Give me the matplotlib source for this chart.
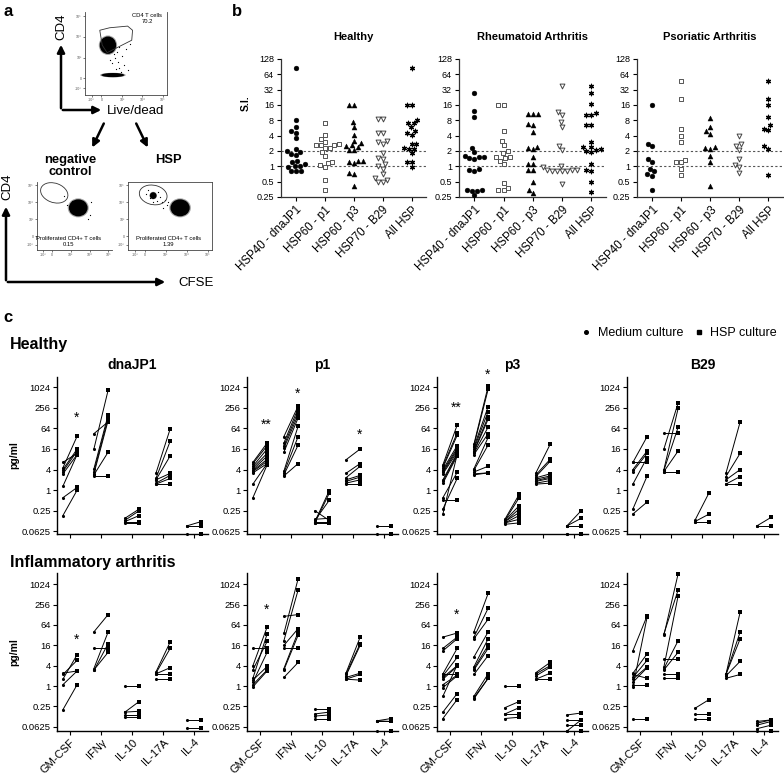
import numpy as np
import matplotlib
matplotlib.use('Agg')
import matplotlib.pyplot as plt
from matplotlib.patches import Ellipse, Polygon, FancyArrowPatch
from matplotlib.lines import Line2D
from matplotlib.ticker import NullLocator

plt.rcParams['font.family'] = ['Liberation Sans', 'DejaVu Sans']

# ---------------- data: panel b (stimulation index) ----------------
b_categories = ['HSP40 - dnaJP1', 'HSP60 - p1', 'HSP60 - p3', 'HSP70 - B29', 'All HSP']
b_titles = ['Healthy', 'Rheumatoid Arthritis', 'Psoriatic Arthritis']
b_yticks = [0.25, 0.5, 1, 2, 4, 8, 16, 32, 64, 128]
b_ytick_labels = ['0.25', '0.5', '1', '2', '4', '8', '16', '32', '64', '128']

h_dnajp1 = [84, 8, 6, 5, 4.6, 3.6, 2.2, 2.0, 1.9, 1.75, 1.7, 1.3, 1.2, 1.1, 1.0, 1.0, 0.95, 0.8, 0.8, 0.8]
h_p1 = [7, 4.1, 3.4, 3.0, 2.7, 2.6, 2.6, 2.6, 2.3, 2.3, 1.9, 1.6, 1.2, 1.15, 1.05, 0.95, 0.55, 0.35]
h_p3 = [16, 16, 7.5, 6, 4.2, 3.2, 2.9, 2.6, 2.5, 2.4, 2.1, 2.1, 1.3, 1.25, 1.2, 1.15, 0.75, 0.7, 0.42]
h_b29 = [8.5, 8.5, 4.5, 4.5, 3.2, 3.0, 2.8, 1.8, 1.45, 1.4, 1.1, 1.0, 0.9, 0.7, 0.6, 0.55, 0.5, 0.5]
h_all = [84, 16, 16, 8.3, 7, 7, 5.8, 5, 4.6, 4.2, 2.8, 2.7, 2.3, 2.2, 2.2, 1.8, 1.2, 1.2, 0.95]

ra_dnajp1 = [27, 12, 9.5, 2.3, 1.9, 1.6, 1.5, 1.5, 1.45, 1.4, 0.9, 0.85, 0.8, 0.35, 0.34, 0.33, 0.33, 0.27]
ra_p1 = [16, 16, 5, 3.2, 2.6, 2.0, 1.8, 1.5, 1.5, 1.45, 1.3, 1.1, 0.48, 0.38, 0.34, 0.34]
ra_p3 = [10.5, 10.5, 10.5, 6.8, 6.6, 4.8, 2.4, 2.3, 2.2, 1.5, 1.1, 1.1, 0.85, 0.85, 0.5, 0.34, 0.3]
ra_b29 = [38, 11.5, 10, 7.5, 6, 2.5, 2.1, 1.0, 0.95, 0.85, 0.85, 0.85, 0.8, 0.8, 0.8, 0.8, 0.45]
ra_all = [37, 28, 17, 11, 10, 10, 6.5, 6.5, 3, 2.4, 2.4, 2.2, 2.1, 2.0, 1.9, 1.1, 0.85, 0.8, 0.5, 0.32]

psa_dnajp1 = [16, 2.8, 2.5, 1.4, 1.2, 0.9, 0.8, 0.7, 0.65, 0.35]
psa_p1 = [48, 21, 5.4, 3.9, 3.0, 1.35, 1.2, 1.2, 0.9, 0.67]
psa_p3 = [9, 6, 5, 4.4, 2.4, 2.3, 2.2, 1.6, 1.2, 0.42]
psa_b29 = [4, 2.8, 2.5, 2.1, 1.4, 1.05, 0.95, 0.75]
psa_all = [48, 21, 16, 9.5, 6.4, 5.4, 5.2, 2.5, 2.2, 0.67]

# ---------------- data: panel c (cytokines, medium vs HSP culture) ----------------
cytokines = ['GM-CSF', 'IFNγ', 'IL-10', 'IL-17A', 'IL-4']
c_peptides = ['dnaJP1', 'p1', 'p3', 'B29']
c_yticks = [0.0625, 0.25, 1, 4, 16, 64, 256, 1024]
c_ytick_labels = ['0.0625', '0.25', '1', '4', '16', '64', '256', '1024']

healthy_dnajp1 = {
    'GM-CSF': ([6.5, 4.5, 4.0, 3.5, 3.0, 1.3, 0.6, 0.18], [12, 38, 16, 14, 11, 11, 1.2, 1.0]),
    'IFNγ': ([45, 16, 4.2, 3.5, 3.0, 2.8, 2.6], [100, 850, 160, 130, 110, 13, 2.6]),
    'IL-10': ([0.15, 0.13, 0.12, 0.12, 0.11], [0.28, 0.25, 0.18, 0.12, 0.11]),
    'IL-17A': ([3.1, 2.2, 2.0, 2.0, 1.6, 1.5, 1.5], [62, 27, 10, 3.1, 2.7, 2.2, 1.5]),
    'IL-4': ([0.09, 0.09, 0.052], [0.12, 0.09, 0.052]),
}
healthy_p1 = {
    'GM-CSF': ([6.5, 6, 5, 4.5, 4, 3.7, 3.5, 3.2, 1.5, 0.6], [24, 20, 16, 12, 10, 8, 7, 6, 6, 5.5]),
    'IFNγ': ([37, 24, 20, 17, 13, 3.6, 3.2, 2.8, 2.6], [290, 250, 200, 160, 130, 75, 37, 21, 6]),
    'IL-10': ([0.25, 0.12, 0.11, 0.13, 0.14, 0.12, 0.11], [0.13, 0.95, 0.8, 0.5, 0.15, 0.12, 0.11]),
    'IL-17A': ([7.7, 3.1, 2.3, 2.0, 1.8, 1.6, 1.5], [16, 6, 5, 2.7, 2.4, 2.0, 1.5]),
    'IL-4': ([0.09, 0.052], [0.09, 0.052]),
}
healthy_p3 = {
    'GM-CSF': ([5.5, 5, 4.5, 4, 3.6, 3.3, 3.0, 2.0, 1.8, 1.6, 0.6, 0.5, 0.28, 0.2],
               [80, 47, 40, 20, 17, 15, 13, 12, 11, 10, 3.3, 0.5, 2.2, 11]),
    'IFNγ': ([22, 20, 18, 16, 14, 13, 12, 11, 4.2, 3.8, 3.4, 3.0, 2.8],
             [1100, 900, 280, 200, 140, 120, 70, 45, 35, 21, 5, 3.2, 3.2]),
    'IL-10': ([0.14, 0.13, 0.13, 0.12, 0.12, 0.11, 0.11, 0.1], [0.75, 0.6, 0.35, 0.28, 0.22, 0.18, 0.14, 0.11]),
    'IL-17A': ([3.2, 2.8, 2.5, 2.3, 2.1, 1.9, 1.8, 1.6, 1.5], [22, 8, 7, 3, 2.6, 2.4, 2.2, 1.9, 1.6]),
    'IL-4': ([0.09, 0.09, 0.09, 0.052, 0.052], [0.25, 0.15, 0.09, 0.052, 0.052]),
}
healthy_b29 = {
    'GM-CSF': ([6.5, 6.5, 4, 3.5, 1.5, 0.28, 0.2], [6.5, 37, 14, 12, 9, 2.6, 0.45]),
    'IFNγ': ([47, 16, 4, 3.8, 3.5, 3.3], [47, 360, 250, 70, 14, 3.3]),
    'IL-10': ([0.13, 0.12, 0.12], [0.85, 0.2, 0.12]),
    'IL-17A': ([3.1, 2.5, 2.0, 1.5, 1.5], [100, 12, 4, 2.5, 1.5]),
    'IL-4': ([0.09, 0.09], [0.16, 0.09]),
}
ia_dnajp1 = {
    'GM-CSF': ([2.4, 2.2, 1.6, 1.1, 0.2], [2.8, 5.8, 8.5, 2.8, 1.1]),
    'IFNγ': ([40, 13, 3.3, 3.0, 2.9], [130, 13, 40, 10, 18]),
    'IL-10': ([1.0, 0.17, 0.17, 0.14, 0.12], [1.0, 0.35, 0.18, 0.14, 0.12]),
    'IL-17A': ([2.6, 2.4, 2.3, 2.2, 1.6], [20, 13, 3.5, 2.2, 1.6]),
    'IL-4': ([0.1, 0.058], [0.1, 0.058]),
}
ia_p1 = {
    'GM-CSF': ([13, 4, 3, 1.7, 1.5, 1.3, 1.1, 0.95], [13, 56, 21, 35, 3.8, 10, 3.0, 2.8]),
    'IFNγ': ([115, 36, 22, 16, 13, 3.3, 3.0, 1.8], [130, 1500, 700, 50, 13, 40, 32, 5]),
    'IL-10': ([0.21, 0.15, 0.13, 0.11], [0.21, 0.17, 0.14, 0.11]),
    'IL-17A': ([2.4, 2.2, 2.0, 1.8, 1.6, 1.6], [28, 18, 16, 2.4, 2.2, 1.5]),
    'IL-4': ([0.094, 0.094, 0.094, 0.047], [0.11, 0.094, 0.09, 0.047]),
}
ia_p3 = {
    'GM-CSF': ([28, 13, 11, 2.3, 2.2, 2.0, 1.8, 1.6, 1.1, 0.9, 0.5, 0.17, 0.11],
               [37, 28, 25, 13, 2.2, 7, 4, 3.8, 2.1, 2.0, 4.2, 0.6, 0.4]),
    'IFNγ': ([40, 28, 25, 7.2, 3.7, 3.3, 3.0, 2.2, 0.5, 0.45, 0.42],
             [550, 200, 95, 40, 25, 16, 13, 8, 2.3, 1.7, 1.7]),
    'IL-10': ([1.0, 0.23, 0.15, 0.15, 0.11], [1.0, 0.35, 0.23, 0.15, 0.12]),
    'IL-17A': ([2.5, 2.3, 2.0, 1.6, 1.6], [5, 4, 3.6, 2.4, 1.6]),
    'IL-4': ([0.14, 0.1, 0.07, 0.047, 0.047], [0.16, 0.1, 0.07, 0.1, 0.047]),
}
ia_b29 = {
    'GM-CSF': ([11, 2.4, 2.2, 1.8, 1.6, 1.3, 1.1, 0.95, 0.11], [120, 9, 1.7, 5.8, 3.7, 3.5, 1.1, 110, 0.11]),
    'IFNγ': ([35, 32, 6.5, 3.7, 3.0, 3.3, 2.2, 1.7], [700, 2100, 6.5, 470, 10, 22, 2.2, 1.7]),
    'IL-10': ([0.22, 0.15, 0.11], [0.4, 0.15, 0.11]),
    'IL-17A': ([2.2, 2.2, 2.2, 2.0, 1.7], [155, 40, 25, 5.4, 2.2]),
    'IL-4': ([0.09, 0.08, 0.07, 0.055, 0.047], [0.1, 0.1, 0.09, 0.07, 0.047]),
}
# significance marks: (panel index, cytokine, label, y value)
healthy_sig = [(0, 'GM-CSF', '*', 130), (1, 'GM-CSF', '**', 82), (1, 'IFNγ', '*', 680),
               (1, 'IL-17A', '*', 41), (2, 'GM-CSF', '**', 260), (2, 'IFNγ', '*', 2300)]
ia_sig = [(0, 'GM-CSF', '*', 24), (1, 'GM-CSF', '*', 180), (2, 'GM-CSF', '*', 130)]

# ---------------- data: panel a (flow cytometry sketches, axes fractions) ----------------
top_blobs = [(0.28, 0.60, 0.20, 0.21), (0.34, 0.24, 0.28, 0.05)]
top_dots_x = [0.36, 0.40, 0.33, 0.42, 0.38, 0.45, 0.30, 0.47, 0.35, 0.50, 0.55, 0.44, 0.39, 0.52, 0.41]
top_dots_y = [0.45, 0.40, 0.38, 0.33, 0.31, 0.47, 0.42, 0.36, 0.50, 0.55, 0.62, 0.28, 0.52, 0.30, 0.58]
top_gate_x = [0.18, 0.30, 0.52, 0.58, 0.57, 0.39, 0.27, 0.21]
top_gate_y = [0.78, 0.81, 0.83, 0.78, 0.66, 0.57, 0.51, 0.60]
neg_blobs = [(0.55, 0.62, 0.25, 0.25)]
neg_dots_x = [0.40, 0.44, 0.72, 0.70, 0.47, 0.36, 0.68]
neg_dots_y = [0.66, 0.58, 0.70, 0.52, 0.72, 0.80, 0.45]
hsp_blobs = [(0.62, 0.62, 0.23, 0.25), (0.30, 0.80, 0.08, 0.10)]
hsp_dots_x = [0.22, 0.26, 0.34, 0.38, 0.40, 0.44, 0.46, 0.24, 0.36, 0.42, 0.48, 0.30]
hsp_dots_y = [0.82, 0.76, 0.72, 0.78, 0.70, 0.74, 0.66, 0.88, 0.86, 0.62, 0.70, 0.70]

# ---------------- figure ----------------
W, H = 784, 776
fig = plt.figure(figsize=(W / 100, H / 100), dpi=100)


def ax_px(x0, y0, x1, y1):
    return fig.add_axes([x0 / W, 1 - y1 / H, (x1 - x0) / W, (y1 - y0) / H])


def fp(x, y):
    return (x / W, 1 - y / H)


def ftext(x, y, s, **kw):
    fig.text(x / W, 1 - y / H, s, **kw)


def farrow(p0, p1, lw=1.8):
    fig.add_artist(FancyArrowPatch(fp(*p0), fp(*p1), transform=fig.transFigure,
                                   arrowstyle='-|>', mutation_scale=11, lw=lw, color='black'))


# ---- panel a ----
ftext(3, 12, 'a', fontsize=12, fontweight='bold', va='center')


def flow_axes(rect, blobs, dx, dy, box=False):
    ax = ax_px(*rect)
    ax.set_xlim(0, 1)
    ax.set_ylim(0, 1)
    for sp in ['top', 'right']:
        ax.spines[sp].set_visible(box)
    for sp in ax.spines.values():
        sp.set_linewidth(0.6)
        sp.set_color('#444444')
    ticks = [0.08, 0.2, 0.45, 0.7, 0.95]
    ax.set_xticks(ticks)
    ax.set_yticks(ticks)
    tl = ['-10³', '0', '10³', '10⁴', '10⁵']
    ax.set_xticklabels(tl, fontsize=2.6, color='#555555')
    ax.set_yticklabels(tl, fontsize=2.6, color='#555555')
    ax.tick_params(length=1.5, width=0.5, pad=1, color='#444444')
    for (cx, cy, w, h) in blobs:
        ax.add_patch(Ellipse((cx, cy), w * 1.12, h * 1.12, color='black', alpha=0.35, lw=0))
        ax.add_patch(Ellipse((cx, cy), w, h, color='black', lw=0))
    ax.scatter(dx, dy, s=0.8, color='black', lw=0)
    return ax


ax_top = flow_axes((85, 12, 167, 95), top_blobs, top_dots_x, top_dots_y)
ax_top.spines['right'].set_visible(True)
ax_top.add_patch(Polygon(np.column_stack([top_gate_x, top_gate_y]), closed=True, fill=False, lw=0.6,
                         ec='#333333'))
ax_top.text(0.76, 0.92, 'CD4 T cells\n70.2', fontsize=4.2, ha='center', va='center', linespacing=1.3)

ax_neg = flow_axes((37, 182, 112, 250), neg_blobs, neg_dots_x, neg_dots_y)
ax_neg.add_patch(Ellipse((0.23, 0.84), 0.38, 0.28, angle=-25, fill=False, lw=0.6, ec='#333333'))
ax_neg.text(0.42, 0.13, 'Proliferated CD4+ T cells\n0.15', fontsize=4.2, ha='center', va='center',
            linespacing=1.3)

ax_hsp = flow_axes((128, 182, 212, 250), hsp_blobs, hsp_dots_x, hsp_dots_y, box=True)
ax_hsp.add_patch(Ellipse((0.30, 0.81), 0.34, 0.28, angle=-25, fill=False, lw=0.6, ec='#333333'))
ax_hsp.text(0.48, 0.13, 'Proliferated CD4+ T cells\n1.39', fontsize=4.2, ha='center', va='center',
            linespacing=1.3)

farrow((61, 111), (61, 42))
farrow((60, 110), (104, 110))
ftext(61, 27, 'CD4', fontsize=9.5, rotation=90, ha='center', va='center')
ftext(107, 111, 'Live/dead', fontsize=9.5, ha='left', va='center')
farrow((105, 121), (91, 150))
farrow((135, 121), (149, 150))
ftext(70, 166, 'negative\ncontrol', fontsize=9.3, fontweight='bold', ha='center', va='center',
      linespacing=1.05)
ftext(168, 160, 'HSP', fontsize=9.3, fontweight='bold', ha='center', va='center')
farrow((6, 283), (6, 204))
farrow((5, 282), (168, 282))
ftext(7, 187, 'CD4', fontsize=9.5, rotation=90, ha='center', va='center')
ftext(178, 283, 'CFSE', fontsize=9.5, ha='left', va='center')

# ---- panel b ----
ftext(232, 12, 'b', fontsize=12, fontweight='bold', va='center')


def swarm(vals, ppy, d):
    ys = np.log2(np.asarray(vals, float)) * ppy
    xs = np.zeros(len(ys))
    done = []
    for i in np.argsort(ys):
        y = ys[i]
        cands = [0.0]
        blocks = []
        for j in done:
            dy = abs(ys[j] - y)
            if dy < d:
                w = np.sqrt(d * d - dy * dy)
                blocks.append((xs[j] - w, xs[j] + w))
                cands += [xs[j] - w, xs[j] + w]
        cands.sort(key=abs)
        for c in cands:
            if all(not (lo + 1e-6 < c < hi - 1e-6) for lo, hi in blocks):
                xs[i] = c
                break
        done.append(i)
    return xs


b_groups = [
    [h_dnajp1, h_p1, h_p3, h_b29, h_all],
    [ra_dnajp1, ra_p1, ra_p3, ra_b29, ra_all],
    [psa_dnajp1, psa_p1, psa_p3, psa_b29, psa_all],
]
b_styles = [
    dict(marker='o', facecolor='black', edgecolor='black', s=12, linewidths=0.3),
    dict(marker='s', facecolor='white', edgecolor='#555555', s=11, linewidths=0.7),
    dict(marker='^', facecolor='black', edgecolor='black', s=13, linewidths=0.3),
    dict(marker='v', facecolor='white', edgecolor='#444444', s=12, linewidths=0.7),
    dict(marker=(6, 2, 0), facecolor='black', edgecolor='black', s=10, linewidths=0.9),
]
b_rects = [(281, 59, 426, 197), (459, 59, 606, 197), (637, 59, 783, 197)]
ppy = (197 - 59) / 9.0
ppx = 29.0
for k, rect in enumerate(b_rects):
    ax = ax_px(*rect)
    ax.set_yscale('log', base=2)
    ax.set_ylim(0.25, 128)
    ax.set_xlim(-0.52, 4.5)
    for sp in ['top', 'right']:
        ax.spines[sp].set_visible(False)
    for sp in ['left', 'bottom']:
        ax.spines[sp].set_linewidth(0.9)
        ax.spines[sp].set_color('#333333')
    ax.axhline(1, color='#555555', lw=0.8, ls=(0, (2, 2)), zorder=1)
    ax.axhline(2, color='#555555', lw=0.8, ls=(0, (2, 2)), zorder=1)
    for gi, vals in enumerate(b_groups[k]):
        offs = swarm(vals, ppy, 5.0) / ppx
        ax.scatter(gi + offs, vals, zorder=3, clip_on=False, **b_styles[gi])
    ax.set_yticks(b_yticks)
    ax.set_yticklabels(b_ytick_labels, fontsize=6.5)
    ax.yaxis.set_minor_locator(NullLocator())
    ax.set_xticks(range(5))
    ax.set_xticklabels(b_categories, rotation=45, ha='right', rotation_mode='anchor', fontsize=8.3)
    ax.tick_params(length=3, width=0.8, pad=2)
    ax.set_title(b_titles[k], fontsize=8, fontweight='bold', pad=14)
ftext(246, 103, 'S.I.', fontsize=7.5, fontweight='bold', rotation=90, ha='center', va='center')

# ---- panel c ----
ftext(3, 318, 'c', fontsize=12, fontweight='bold', va='center')
ftext(10, 344, 'Healthy', fontsize=11.5, fontweight='bold', va='center')
ftext(10, 562, 'Inflammatory arthritis', fontsize=11.5, fontweight='bold', va='center')

col_left = [57, 247, 437, 627]
col_w = 151
rows = [
    dict(top=377, bottom=534, ylim=(0.052, 2048), panels=[healthy_dnajp1, healthy_p1, healthy_p3, healthy_b29],
         sig=healthy_sig, labels=False),
    dict(top=573, bottom=731, ylim=(0.047, 2200), panels=[ia_dnajp1, ia_p1, ia_p3, ia_b29],
         sig=ia_sig, labels=True),
]
dx = 0.23
for ri, row in enumerate(rows):
    for ci, panel in enumerate(row['panels']):
        ax = ax_px(col_left[ci], row['top'], col_left[ci] + col_w, row['bottom'])
        ax.set_yscale('log', base=2)
        ax.set_ylim(*row['ylim'])
        ax.set_xlim(-0.42, 4.45)
        for sp in ['top', 'right']:
            ax.spines[sp].set_visible(False)
        for sp in ['left', 'bottom']:
            ax.spines[sp].set_linewidth(1.0)
        for gi, cyt in enumerate(cytokines):
            med, hsp = panel[cyt]
            for m, h in zip(med, hsp):
                ax.plot([gi - dx, gi + dx], [m, h], color='black', lw=0.7, zorder=2, clip_on=False)
            ax.scatter(np.full(len(med), gi - dx), med, s=5, marker='o', color='black', lw=0,
                       zorder=3, clip_on=False)
            ax.scatter(np.full(len(hsp), gi + dx), hsp, s=7, marker='s', color='black', lw=0,
                       zorder=3, clip_on=False)
        for (pi, cyt, lab, yv) in row['sig']:
            if pi == ci:
                ax.text(cytokines.index(cyt) + 0.2, yv, lab, fontsize=10, ha='center', va='center')
        ax.set_yticks(c_yticks)
        ax.set_yticklabels(c_ytick_labels, fontsize=6.8)
        ax.yaxis.set_minor_locator(NullLocator())
        ax.set_xticks(range(5))
        if row['labels']:
            ax.set_xticklabels(cytokines, rotation=45, ha='right', rotation_mode='anchor', fontsize=8)
        else:
            ax.set_xticklabels([])
        ax.tick_params(length=3, width=0.8, pad=1.5)
        if ri == 0:
            ax.set_title(c_peptides[ci], fontsize=10, fontweight='bold', pad=6)
        if ci == 0:
            ax.set_ylabel('pg/ml', fontsize=7.5, fontweight='bold', labelpad=2)

handles = [Line2D([], [], marker='o', ls='', color='black', markersize=2.6, label='Medium culture'),
           Line2D([], [], marker='s', ls='', color='black', markersize=3.0, label='HSP culture')]
fig.legend(handles=handles, loc='center right', bbox_to_anchor=fp(782, 333), ncol=2, frameon=False,
           fontsize=9, handletextpad=0.5, columnspacing=0.9, handlelength=0.8, borderaxespad=0)

fig.savefig('out.png', dpi=100)
